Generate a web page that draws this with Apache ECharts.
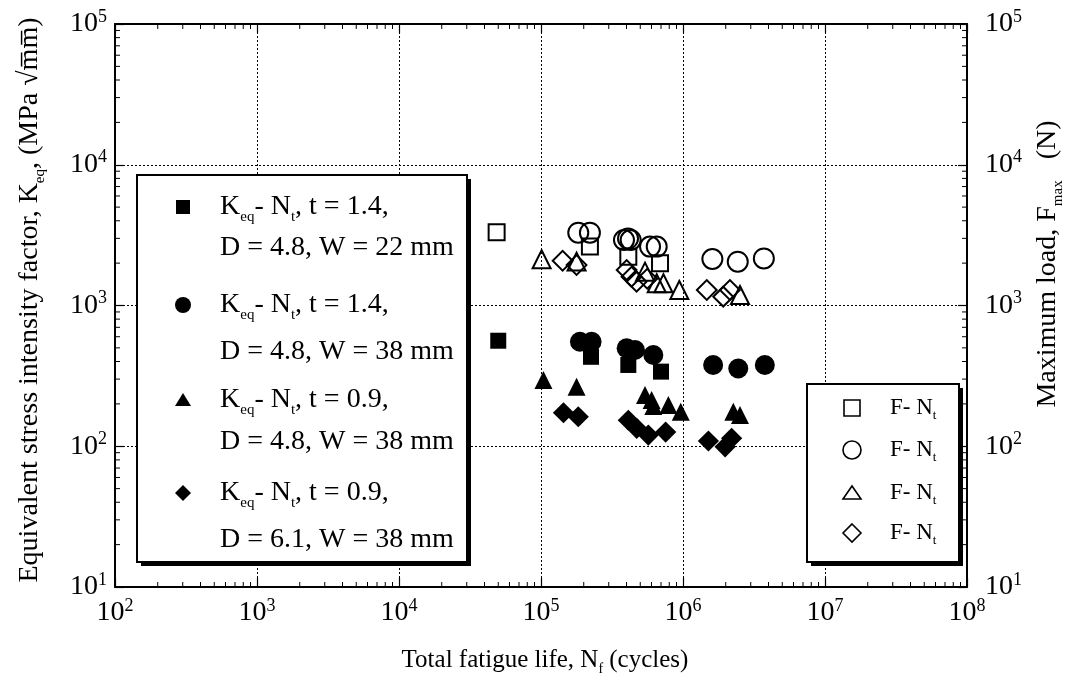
<!DOCTYPE html>
<html><head><meta charset="utf-8">
<script src="https://cdn.jsdelivr.net/npm/echarts@6/dist/echarts.min.js"></script>
<style>html,body{margin:0;padding:0;background:#fff}#c{width:1073px;height:680px}</style>
</head><body><div id="c"></div>
<script>
// ---- data ----
const kSqX = [50000, 225000, 412000, 700000];
const kSqY = [562, 432, 378, 339];
const kCiX = [188000, 227000, 401000, 459000, 618000, 1630000, 2450000, 3770000];
const kCiY = [553, 553, 497, 483, 445, 378, 357, 378];
const kTrX = [104000, 178000, 540000, 601000, 618000, 789000, 964000, 2260000, 2520000];
const kTrY = [296, 265, 231, 213, 193, 196, 176, 176, 167];
const kDiX = [144000, 183000, 412000, 472000, 570000, 755000, 1510000, 1980000, 2200000];
const kDiY = [173, 162, 153, 134, 120, 126, 109, 99, 114];

const fSqX = [48700, 221000, 412000, 689000];
const fSqY = [3311, 2620, 2220, 1995];
const fCiX = [183000, 221000, 384000, 410000, 428000, 586000, 653000, 1610000, 2430000, 3710000];
const fCiY = [3290, 3290, 2920, 2990, 2920, 2620, 2620, 2140, 2047, 2160];
const fTrX = [101000, 178000, 540000, 653000, 728000, 942000, 2520000];
const fTrY = [2130, 2050, 1740, 1440, 1440, 1288, 1188];
const fDiX = [142000, 178000, 401000, 434000, 471000, 560000, 1470000, 1920000, 2140000];
const fDiY = [2080, 1940, 1787, 1600, 1477, 1550, 1288, 1156, 1288];

const xMin = 1e2, xMax = 1e8, yMin = 1e1, yMax = 1e5;
const minorMult = [2, 3, 4, 5, 6, 7, 8, 9];
const xDecades = [2, 3, 4, 5, 6, 7];
const yDecades = [1, 2, 3, 4];

const legendK = [
  ['t = 1.4,', 'D = 4.8, W = 22 mm'],
  ['t = 1.4,', 'D = 4.8, W = 38 mm'],
  ['t = 0.9,', 'D = 4.8, W = 38 mm'],
  ['t = 0.9,', 'D = 6.1, W = 38 mm']
];

// ---- build ----
const zip = (a, b) => a.map((v, i) => [v, b[i]]);
const FONT = '"Liberation Serif", "Times New Roman", serif';

const xMinor = [];
xDecades.forEach(d => minorMult.forEach(m => xMinor.push([m * Math.pow(10, d), yMin])));
const yMinor = [];
yDecades.forEach(d => minorMult.forEach(m => yMinor.push([xMin, m * Math.pow(10, d)])));

function tickFmt(v) {
  const e = Math.round(Math.log10(v));
  return '{b|10}{s|' + e + '}';
}
const tickRich = {
  b: { fontFamily: FONT, fontSize: 28, color: '#000' },
  s: { fontFamily: FONT, fontSize: 18, color: '#000', padding: [0, 0, 14, 0] }
};

const axisCommon = {
  type: 'log', logBase: 10,
  axisLine: { show: true, lineStyle: { color: '#000', width: 2 } },
  axisTick: { show: true, inside: true, length: 9, lineStyle: { color: '#000', width: 1.2 } },
  minorTick: { show: false },
};

function scatter(name, x, y, symbol, filled, size, rotate) {
  return {
    type: 'scatter', name, data: zip(x, y), symbol, symbolSize: size,
    symbolRotate: rotate || 0,
    itemStyle: filled ? { color: '#000', opacity: 1 } : { color: 'rgba(255,255,255,0)', borderColor: '#000', borderWidth: 2, opacity: 1 },
    z: 5
  };
}

function minorSeries(data, isX) {
  return {
    type: 'custom', data, clip: false, silent: true, z: 4,
    renderItem: function (params, api) {
      const v = isX ? api.value(0) : api.value(1);
      const ls = { stroke: '#000', lineWidth: 1 };
      if (isX) {
        const b = api.coord([v, yMin]), t = api.coord([v, yMax]);
        return { type: 'group', children: [
          { type: 'line', shape: { x1: b[0], y1: b[1], x2: b[0], y2: b[1] - 5 }, style: ls },
          { type: 'line', shape: { x1: t[0], y1: t[1], x2: t[0], y2: t[1] + 5 }, style: ls }
        ]};
      } else {
        const l = api.coord([xMin, v]), r = api.coord([xMax, v]);
        return { type: 'group', children: [
          { type: 'line', shape: { x1: l[0], y1: l[1], x2: l[0] + 5, y2: l[1] }, style: ls },
          { type: 'line', shape: { x1: r[0], y1: r[1], x2: r[0] - 5, y2: r[1] }, style: ls }
        ]};
      }
    }
  };
}

const txt = (o) => Object.assign({ fill: '#000', font: '28px ' + FONT }, o);
const mkRich = (fs, ss, pad) => ({
  n: { fontFamily: FONT, fontSize: fs, color: '#000' },
  sub: { fontFamily: FONT, fontSize: ss, color: '#000', padding: [pad, 0, 0, 0] }
});

// legend 1 graphics
const L1 = { x: 137, y: 175, w: 330, h: 387 };
const L1row1 = [207, 305, 400, 493];
const L1row2 = [248, 352, 442, 540];
const L1sym = [
  { type: 'rect', shape: { x: -7, y: -7, width: 14, height: 14 } },
  { type: 'circle', shape: { cx: 0, cy: 0, r: 8 } },
  { type: 'polygon', shape: { points: [[0, -7], [8, 6], [-8, 6]] } },
  { type: 'polygon', shape: { points: [[0, -8], [8, 0], [0, 8], [-8, 0]] } }
];
const graphics = [];
graphics.push({ type: 'rect', z: 20, shape: { x: L1.x + 4, y: L1.y + 4, width: L1.w, height: L1.h }, style: { fill: '#000' } });
graphics.push({ type: 'rect', z: 21, shape: { x: L1.x, y: L1.y, width: L1.w, height: L1.h }, style: { fill: '#fff', stroke: '#000', lineWidth: 2 } });
legendK.forEach((rows, i) => {
  const s = L1sym[i];
  graphics.push(Object.assign({}, s, { z: 22, x: 183, y: L1row1[i], style: { fill: '#000' } }));
  graphics.push({ type: 'text', z: 22, x: 220, y: L1row1[i], style: txt({
    text: '{n|K}{sub|eq}{n|- N}{sub|t}{n|, ' + rows[0] + '}', rich: mkRich(28, 15, 20), verticalAlign: 'middle' }) });
  graphics.push({ type: 'text', z: 22, x: 220, y: L1row2[i], style: txt({ text: rows[1], verticalAlign: 'middle' }) });
});

// legend 2
const L2 = { x: 807, y: 384, w: 152, h: 178 };
const L2rows = [408, 450, 493, 533];
const L2sym = [
  { type: 'rect', shape: { x: -8, y: -8, width: 16, height: 16 } },
  { type: 'circle', shape: { cx: 0, cy: 0, r: 9 } },
  { type: 'polygon', shape: { points: [[0, -7], [9, 6], [-9, 6]] } },
  { type: 'polygon', shape: { points: [[0, -9], [9, 0], [0, 9], [-9, 0]] } }
];
graphics.push({ type: 'rect', z: 20, shape: { x: L2.x + 4, y: L2.y + 4, width: L2.w, height: L2.h }, style: { fill: '#000' } });
graphics.push({ type: 'rect', z: 21, shape: { x: L2.x, y: L2.y, width: L2.w, height: L2.h }, style: { fill: '#fff', stroke: '#000', lineWidth: 2 } });
L2rows.forEach((yy, i) => {
  graphics.push(Object.assign({}, L2sym[i], { z: 22, x: 852, y: yy, style: { fill: 'none', stroke: '#000', lineWidth: 1.6 } }));
  graphics.push({ type: 'text', z: 22, x: 890, y: yy, style: txt({
    text: '{n|F- N}{sub|t}', verticalAlign: 'middle', rich: mkRich(23, 13, 16) }) });
});

// axis titles
graphics.push({ type: 'text', z: 22, x: 30, y: 300, rotation: Math.PI / 2, style: txt({
  text: '{n|Equivalent stress intensity factor, K}{sub|eq}{n|, (MPa \u221Am\u0305m\u0305)}', rich: mkRich(28, 15, 20),
  align: 'center', verticalAlign: 'middle' }) });
graphics.push({ type: 'text', z: 22, x: 1048, y: 264, rotation: Math.PI / 2, style: txt({
  text: '{n|Maximum load, F}{sub|max}{n|   (N)}', rich: mkRich(28, 15, 20),
  align: 'center', verticalAlign: 'middle' }) });
graphics.push({ type: 'text', z: 22, x: 545, y: 660, style: txt({
  text: '{n|Total fatigue life, N}{sub|f}{n| (cycles)}', rich: mkRich(25, 14, 18),
  align: 'center', verticalAlign: 'middle' }) });

const chart = echarts.init(document.getElementById('c'), null, { renderer: 'canvas' });
chart.setOption({
  backgroundColor: '#fff',
  animation: false,
  grid: { left: 115, right: 106, top: 24, bottom: 93, containLabel: false },
  xAxis: [
    Object.assign({}, axisCommon, { min: xMin, max: xMax, position: 'bottom',
      axisLabel: { formatter: tickFmt, rich: tickRich, margin: 10 },
      splitLine: { show: true, lineStyle: { color: '#000', type: [2, 2], width: 1 } } }),
    Object.assign({}, axisCommon, { min: xMin, max: xMax, position: 'top',
      axisLabel: { show: false }, splitLine: { show: false } })
  ],
  yAxis: [
    Object.assign({}, axisCommon, { min: yMin, max: yMax, position: 'left',
      axisLabel: { formatter: tickFmt, rich: tickRich, margin: 8 },
      splitLine: { show: true, lineStyle: { color: '#000', type: [2, 2], width: 1 } } }),
    Object.assign({}, axisCommon, { min: yMin, max: yMax, position: 'right',
      axisLabel: { formatter: tickFmt, rich: tickRich, margin: 18 }, splitLine: { show: false } })
  ],
  series: [
    minorSeries(xMinor, true),
    minorSeries(yMinor, false),
    scatter('Keq W22', kSqX, kSqY, 'rect', true, 16),
    scatter('Keq W38 t1.4', kCiX, kCiY, 'circle', true, 20),
    scatter('Keq t0.9 D4.8', kTrX, kTrY, 'triangle', true, 18),
    scatter('Keq t0.9 D6.1', kDiX, kDiY, 'rect', true, 15, 45),
    scatter('F W22', fSqX, fSqY, 'rect', false, 16),
    scatter('F W38 t1.4', fCiX, fCiY, 'circle', false, 20),
    scatter('F t0.9 D4.8', fTrX, fTrY, 'triangle', false, 18),
    scatter('F t0.9 D6.1', fDiX, fDiY, 'rect', false, 14, 45)
  ],
  graphic: graphics
});
</script>
</body></html>
